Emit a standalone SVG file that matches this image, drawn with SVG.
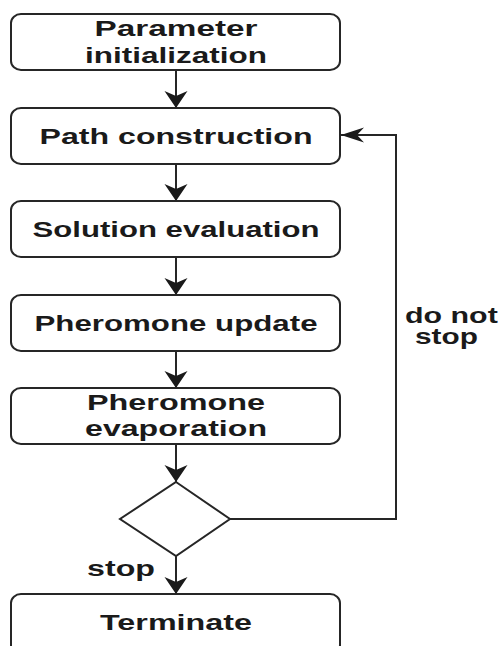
<svg xmlns="http://www.w3.org/2000/svg" width="501" height="646" viewBox="0 0 501 646">
  <style>
    .box { fill: #ffffff; stroke: #262626; stroke-width: 2; }
    .lbl { font-family: "Liberation Sans", Arial, sans-serif; font-weight: bold; font-size: 22px; fill: #1a1a1a; text-anchor: middle; }
    .edge-lbl { font-family: "Liberation Sans", Arial, sans-serif; font-weight: bold; font-size: 22px; fill: #1a1a1a; text-anchor: start; }
    .conn { fill: none; stroke: #262626; stroke-width: 2; }
  </style>
  <defs>
    <marker id="arrV" markerUnits="userSpaceOnUse" markerWidth="20" markerHeight="26" viewBox="0 -13 18 26" refX="17" refY="0" orient="auto">
      <path d="M0,-11.5 L17,0 L0,11.5 L5,0 Z" fill="#1a1a1a"/>
    </marker>
    <marker id="arrH" markerUnits="userSpaceOnUse" markerWidth="26" markerHeight="18" viewBox="0 -9 24 18" refX="23" refY="0" orient="auto">
      <path d="M0,-7.5 L23,0 L0,7.5 L7,0 Z" fill="#1a1a1a"/>
    </marker>
  </defs>
  <rect width="501" height="646" fill="#ffffff"/>

  <g id="connectors">
    <line class="conn" x1="176" y1="70" x2="176" y2="108" marker-end="url(#arrV)"/>
    <line class="conn" x1="176" y1="164" x2="176" y2="201" marker-end="url(#arrV)"/>
    <line class="conn" x1="176" y1="257" x2="176" y2="295" marker-end="url(#arrV)"/>
    <line class="conn" x1="176" y1="351" x2="176" y2="388" marker-end="url(#arrV)"/>
    <line class="conn" x1="176" y1="444" x2="176" y2="482" marker-end="url(#arrV)"/>
    <line class="conn" x1="176" y1="556" x2="176" y2="594" marker-end="url(#arrV)"/>
    <polyline class="conn" points="230,519 396,519 396,135 341,135" marker-end="url(#arrH)"/>
    <text class="edge-lbl" transform="translate(405,323) scale(1.45,1)" textLength="64" lengthAdjust="spacingAndGlyphs">do not</text>
    <text class="edge-lbl" transform="translate(415,344) scale(1.45,1)" textLength="43.4" lengthAdjust="spacingAndGlyphs">stop</text>
    <text class="edge-lbl" transform="translate(87,576) scale(1.45,1)" textLength="46.9" lengthAdjust="spacingAndGlyphs">stop</text>
  </g>

  <g id="node-init">
    <rect class="box" x="11" y="14" width="329" height="56" rx="10" ry="9"/>
    <text class="lbl" transform="translate(176,36) scale(1.45,1)" textLength="112.4" lengthAdjust="spacingAndGlyphs">Parameter</text>
    <text class="lbl" transform="translate(176,63) scale(1.45,1)" textLength="125.5" lengthAdjust="spacingAndGlyphs">initialization</text>
  </g>
  <g id="node-path">
    <rect class="box" x="11" y="108" width="329" height="56" rx="10" ry="9"/>
    <text class="lbl" transform="translate(176,144) scale(1.45,1)" textLength="188.3" lengthAdjust="spacingAndGlyphs">Path construction</text>
  </g>
  <g id="node-eval">
    <rect class="box" x="11" y="201" width="329" height="56" rx="10" ry="9"/>
    <text class="lbl" transform="translate(176,237) scale(1.45,1)" textLength="197.9" lengthAdjust="spacingAndGlyphs">Solution evaluation</text>
  </g>
  <g id="node-update">
    <rect class="box" x="11" y="295" width="329" height="56" rx="10" ry="9"/>
    <text class="lbl" transform="translate(176,331) scale(1.45,1)" textLength="195.2" lengthAdjust="spacingAndGlyphs">Pheromone update</text>
  </g>
  <g id="node-evap">
    <rect class="box" x="11" y="388" width="329" height="56" rx="10" ry="9"/>
    <text class="lbl" transform="translate(176,410) scale(1.45,1)" textLength="122.8" lengthAdjust="spacingAndGlyphs">Pheromone</text>
    <text class="lbl" transform="translate(176,436) scale(1.45,1)" textLength="125.5" lengthAdjust="spacingAndGlyphs">evaporation</text>
  </g>
  <g id="node-decision">
    <polygon class="box" points="176,482 230,519 176,556 120,519"/>
  </g>
  <g id="node-terminate">
    <rect class="box" x="11" y="594" width="329" height="60" rx="10" ry="9"/>
    <text class="lbl" transform="translate(176,630) scale(1.45,1)" textLength="104.8" lengthAdjust="spacingAndGlyphs">Terminate</text>
  </g>
</svg>
